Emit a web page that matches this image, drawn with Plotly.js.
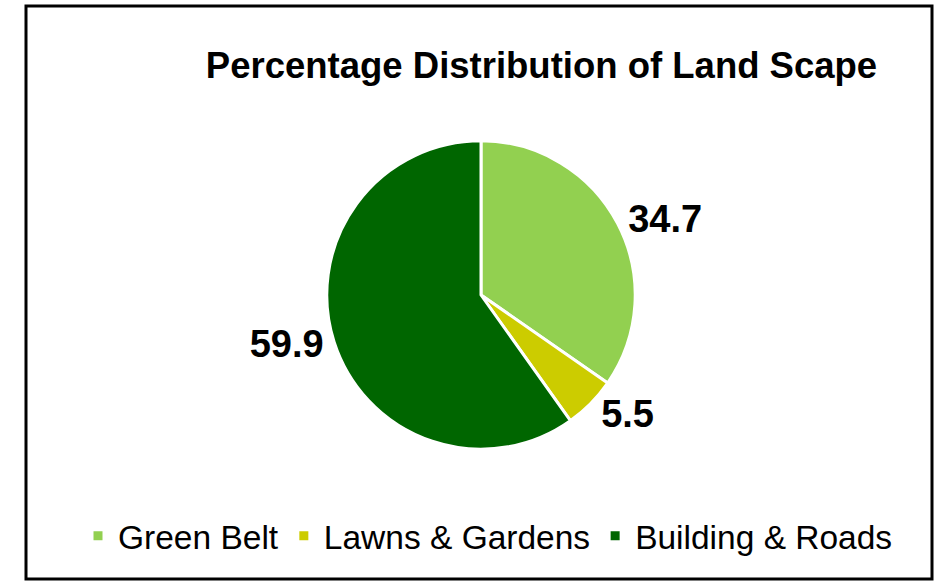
<!DOCTYPE html>
<html>
<head>
<meta charset="utf-8">
<script src="https://cdn.plot.ly/plotly-3.0.1.min.js"></script>
<style>
html,body{margin:0;padding:0;background:#fff;}
#chart{width:937px;height:583px;}
</style>
</head>
<body>
<div id="chart"></div>
<script>
const categories = ["Green Belt", "Lawns & Gardens", "Building & Roads"];
const values = [34.7, 5.5, 59.9];
const colors = ["#92D050", "#CCCC00", "#006600"];

const cx = 481 / 937, cy = 1 - 295 / 583;
const trace = {
  type: "pie",
  labels: categories,
  values: values,
  text: values.map(v => v.toFixed(1)),
  textinfo: "text",
  textposition: "outside",
  sort: false,
  direction: "clockwise",
  rotation: 0,
  marker: { colors: colors, line: { color: "#ffffff", width: 3 } },
  outsidetextfont: { family: "Liberation Sans, Arial, sans-serif", size: 38, color: "#000000", weight: "bold" },
  hoverinfo: "none",
  domain: { x: [cx - 0.2, cx + 0.2], y: [cy - 0.2645, cy + 0.2645] }
};

const layout = {
  width: 937, height: 583,
  margin: { l: 0, r: 0, t: 0, b: 0 },
  paper_bgcolor: "#ffffff",
  title: {
    text: "<b>Percentage Distribution of Land Scape</b>",
    font: { family: "Liberation Sans, Arial, sans-serif", size: 36.5, color: "#000000" },
    x: 541.5 / 937, xanchor: "center", xref: "paper",
    y: 1 - 65 / 583, yanchor: "middle", yref: "paper"
  },
  showlegend: true,
  legend: {
    orientation: "h",
    x: 488 / 937, xanchor: "center",
    y: 1 - 536 / 583, yanchor: "middle",
    font: { family: "Liberation Sans, Arial, sans-serif", size: 33.5, color: "#000000" },
    itemclick: false, itemdoubleclick: false
  },
  shapes: [{
    type: "rect", xref: "paper", yref: "paper",
    x0: 26 / 937, x1: 932 / 937, y0: 1 - 579 / 583, y1: 1 - 6 / 583,
    line: { color: "#000000", width: 3 }, fillcolor: "rgba(0,0,0,0)"
  }]
};

Plotly.newPlot("chart", [trace], layout, { staticPlot: true, displayModeBar: false });
</script>
</body>
</html>
